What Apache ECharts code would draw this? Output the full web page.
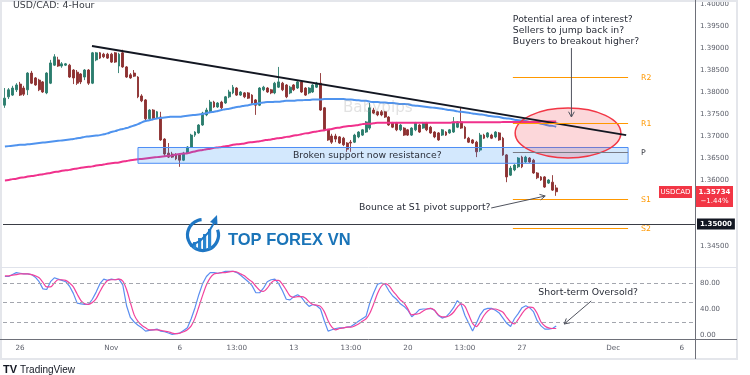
<!DOCTYPE html>
<html><head><meta charset="utf-8">
<script src="https://cdn.jsdelivr.net/npm/echarts@6/dist/echarts.min.js"></script>
<style>html,body{margin:0;padding:0;background:#fff}#c{width:750px;height:375px}</style>
</head><body><div id="c"></div>
<script>
// ---------- DATA ----------
const symbolTitle = 'USD/CAD: 4-Hour';
const symbolTag = 'USDCAD';
const lastChangePct = -1.44;
// 4-hour candles [open, close, low, high]
const candles = [
[1.3770,1.3786,1.3764,1.3809],[1.3789,1.3805,1.3784,1.3809],[1.3793,1.3809,1.3791,1.3814],[1.3805,1.3816,1.3800,1.3820],
[1.3818,1.3793,1.3791,1.3823],[1.3809,1.3795,1.3791,1.3814],[1.3805,1.3843,1.3793,1.3845],[1.3843,1.3820,1.3818,1.3848],
[1.3832,1.3816,1.3814,1.3834],[1.3827,1.3805,1.3802,1.3830],[1.3823,1.3800,1.3798,1.3825],[1.3798,1.3843,1.3795,1.3845],
[1.3820,1.3866,1.3818,1.3873],[1.3861,1.3880,1.3859,1.3886],[1.3873,1.3859,1.3857,1.3880],[1.3859,1.3864,1.3855,1.3868],
[1.3861,1.3864,1.3859,1.3866],[1.3861,1.3834,1.3832,1.3864],[1.3850,1.3832,1.3818,1.3852],[1.3845,1.3820,1.3816,1.3850],
[1.3841,1.3823,1.3818,1.3843],[1.3834,1.3850,1.3827,1.3852],[1.3850,1.3820,1.3816,1.3852],[1.3820,1.3889,1.3818,1.3891],
[1.3873,1.3889,1.3870,1.3891],[1.3889,1.3877,1.3875,1.3891],[1.3886,1.3880,1.3877,1.3889],[1.3886,1.3877,1.3875,1.3889],
[1.3886,1.3868,1.3866,1.3889],[1.3889,1.3868,1.3866,1.3891],[1.3859,1.3886,1.3843,1.3889],[1.3889,1.3857,1.3855,1.3896],
[1.3857,1.3834,1.3832,1.3859],[1.3839,1.3832,1.3830,1.3843],[1.3843,1.3836,1.3834,1.3850],[1.3834,1.3789,1.3786,1.3836],
[1.3791,1.3780,1.3777,1.3795],[1.3782,1.3739,1.3736,1.3784],[1.3739,1.3759,1.3736,1.3761],[1.3759,1.3739,1.3736,1.3761],
[1.3741,1.3755,1.3739,1.3757],[1.3743,1.3691,1.3689,1.3755],[1.3693,1.3659,1.3655,1.3695],[1.3661,1.3652,1.3650,1.3684],
[1.3659,1.3652,1.3650,1.3664],[1.3657,1.3648,1.3645,1.3661],[1.3657,1.3645,1.3630,1.3659],[1.3645,1.3661,1.3643,1.3664],
[1.3661,1.3675,1.3659,1.3677],[1.3675,1.3702,1.3673,1.3705],[1.3702,1.3709,1.3698,1.3711],[1.3707,1.3725,1.3705,1.3727],
[1.3725,1.3752,1.3723,1.3755],[1.3748,1.3759,1.3745,1.3764],[1.3755,1.3777,1.3752,1.3782],[1.3777,1.3766,1.3764,1.3780],
[1.3766,1.3775,1.3764,1.3777],[1.3777,1.3764,1.3759,1.3780],[1.3775,1.3789,1.3773,1.3791],[1.3789,1.3800,1.3786,1.3805],
[1.3798,1.3811,1.3795,1.3816],[1.3809,1.3793,1.3791,1.3811],[1.3793,1.3800,1.3791,1.3802],[1.3798,1.3789,1.3786,1.3800],
[1.3798,1.3786,1.3784,1.3800],[1.3793,1.3775,1.3773,1.3795],[1.3782,1.3770,1.3748,1.3784],[1.3770,1.3809,1.3768,1.3811],
[1.3805,1.3811,1.3802,1.3814],[1.3809,1.3800,1.3798,1.3811],[1.3805,1.3798,1.3795,1.3807],[1.3798,1.3820,1.3795,1.3823],
[1.3811,1.3823,1.3809,1.3857],[1.3820,1.3805,1.3802,1.3823],[1.3816,1.3789,1.3786,1.3818],[1.3798,1.3811,1.3795,1.3814],
[1.3816,1.3805,1.3802,1.3818],[1.3809,1.3823,1.3807,1.3827],[1.3823,1.3800,1.3798,1.3825],[1.3809,1.3793,1.3791,1.3811],
[1.3798,1.3809,1.3795,1.3811],[1.3800,1.3816,1.3798,1.3818],[1.3811,1.3820,1.3809,1.3823],[1.3820,1.3759,1.3757,1.3843],
[1.3764,1.3714,1.3711,1.3766],[1.3714,1.3691,1.3689,1.3716],[1.3700,1.3686,1.3682,1.3705],[1.3700,1.3693,1.3686,1.3705],
[1.3698,1.3684,1.3682,1.3700],[1.3695,1.3680,1.3677,1.3698],[1.3684,1.3670,1.3664,1.3686],[1.3686,1.3684,1.3664,1.3691],
[1.3686,1.3702,1.3684,1.3705],[1.3698,1.3709,1.3695,1.3711],[1.3702,1.3714,1.3700,1.3716],[1.3709,1.3732,1.3707,1.3734],
[1.3718,1.3764,1.3714,1.3775],[1.3759,1.3752,1.3750,1.3764],[1.3755,1.3748,1.3745,1.3757],[1.3755,1.3748,1.3745,1.3759],
[1.3755,1.3743,1.3741,1.3757],[1.3743,1.3725,1.3723,1.3745],[1.3730,1.3720,1.3718,1.3732],[1.3730,1.3714,1.3711,1.3732],
[1.3714,1.3725,1.3711,1.3727],[1.3718,1.3702,1.3700,1.3720],[1.3714,1.3702,1.3700,1.3716],[1.3702,1.3718,1.3700,1.3720],
[1.3714,1.3730,1.3711,1.3732],[1.3725,1.3709,1.3707,1.3727],[1.3718,1.3730,1.3716,1.3732],[1.3730,1.3714,1.3711,1.3732],
[1.3720,1.3707,1.3705,1.3723],[1.3709,1.3698,1.3695,1.3711],[1.3707,1.3691,1.3689,1.3709],[1.3702,1.3714,1.3700,1.3716],
[1.3709,1.3702,1.3700,1.3711],[1.3707,1.3714,1.3705,1.3716],[1.3709,1.3732,1.3707,1.3743],[1.3720,1.3732,1.3718,1.3734],
[1.3732,1.3718,1.3716,1.3766],[1.3720,1.3695,1.3693,1.3723],[1.3695,1.3686,1.3684,1.3698],[1.3691,1.3684,1.3682,1.3693],
[1.3686,1.3664,1.3652,1.3689],[1.3668,1.3702,1.3664,1.3707],[1.3702,1.3695,1.3693,1.3705],[1.3698,1.3707,1.3695,1.3709],
[1.3702,1.3695,1.3693,1.3705],[1.3698,1.3709,1.3695,1.3711],[1.3707,1.3691,1.3689,1.3709],[1.3695,1.3657,1.3655,1.3698],
[1.3657,1.3607,1.3595,1.3659],[1.3611,1.3627,1.3609,1.3632],[1.3623,1.3634,1.3620,1.3636],[1.3630,1.3650,1.3627,1.3652],
[1.3652,1.3630,1.3627,1.3655],[1.3641,1.3652,1.3639,1.3655],[1.3650,1.3641,1.3639,1.3652],[1.3645,1.3616,1.3614,1.3648],
[1.3616,1.3605,1.3602,1.3618],[1.3607,1.3600,1.3598,1.3609],[1.3607,1.3584,1.3582,1.3609],[1.3593,1.3600,1.3591,1.3602],
[1.3595,1.3577,1.3575,1.3611],[1.3582,1.35734,1.3564,1.3589]
];
// moving averages
const maBlue = [
1.3676,1.3677,1.3678,1.3679,1.3680,1.3680,1.3681,1.3682,1.3683,1.3684,
1.3685,1.3686,1.3687,1.3688,1.3689,1.3690,1.3691,1.3692,1.3693,1.3695,
1.3696,1.3698,1.3699,1.3700,1.3701,1.3702,1.3704,1.3706,1.3709,1.3711,
1.3714,1.3716,1.3718,1.3721,1.3724,1.3727,1.3731,1.3734,1.3736,1.3738,
1.3740,1.3741,1.3742,1.3743,1.3744,1.3744,1.3744,1.3745,1.3746,1.3747,
1.3748,1.3749,1.3750,1.3752,1.3754,1.3755,1.3757,1.3759,1.3761,1.3762,
1.3764,1.3766,1.3767,1.3769,1.3770,1.3772,1.3773,1.3775,1.3776,1.3777,
1.3777,1.3778,1.3778,1.3779,1.3780,1.3780,1.3780,1.3781,1.3781,1.3782,
1.3782,1.3783,1.3783,1.3783,1.3784,1.3784,1.3784,1.3784,1.3784,1.3784,
1.3783,1.3783,1.3782,1.3781,1.3780,1.3780,1.3778,1.3777,1.3777,1.3776,
1.3776,1.3775,1.3775,1.3774,1.3773,1.3773,1.3772,1.3770,1.3769,1.3768,
1.3767,1.3766,1.3765,1.3764,1.3763,1.3762,1.3760,1.3759,1.3758,1.3756,
1.3755,1.3754,1.3753,1.3751,1.3750,1.3749,1.3748,1.3746,1.3745,1.3744,
1.3743,1.3741,1.3740,1.3739,1.3737,1.3736,1.3735,1.3734,1.3732,1.3731,
1.3730,1.3728,1.3726,1.3724,1.3723,1.3721];
const maPink = [
1.3599,1.3600,1.3602,1.3603,1.3605,1.3606,1.3608,1.3609,1.3610,1.3612,
1.3613,1.3615,1.3616,1.3618,1.3619,1.3621,1.3622,1.3623,1.3625,1.3626,
1.3628,1.3629,1.3630,1.3631,1.3633,1.3634,1.3635,1.3637,1.3638,1.3639,
1.3640,1.3642,1.3643,1.3645,1.3646,1.3647,1.3648,1.3649,1.3650,1.3651,
1.3652,1.3653,1.3654,1.3655,1.3656,1.3658,1.3659,1.3660,1.3661,1.3663,
1.3665,1.3667,1.3668,1.3670,1.3671,1.3673,1.3674,1.3675,1.3677,1.3678,
1.3680,1.3681,1.3682,1.3683,1.3685,1.3686,1.3687,1.3688,1.3690,1.3691,
1.3692,1.3694,1.3695,1.3696,1.3698,1.3699,1.3701,1.3702,1.3704,1.3706,
1.3707,1.3709,1.3710,1.3712,1.3713,1.3715,1.3716,1.3718,1.3719,1.3721,
1.3722,1.3723,1.3724,1.3725,1.3727,1.3728,1.3728,1.3729,1.3730,1.3730,
1.3730,1.3730,1.3730,1.3730,1.3730,1.3730,1.3730,1.3730,1.3730,1.3730,
1.3730,1.3730,1.3730,1.3730,1.3730,1.3730,1.3730,1.3730,1.3731,1.3731,
1.3731,1.3731,1.3731,1.3731,1.3731,1.3731,1.3731,1.3731,1.3731,1.3731,
1.3731,1.3732,1.3732,1.3732,1.3732,1.3732,1.3732,1.3732,1.3732,1.3732,
1.3732,1.3733,1.3733,1.3733,1.3733,1.3733];
// stochastic
const stochK = [
90,90,93,96,95,94,94,93,89,82, 71,70,82,88,86,84,82,75,64,49, 48,47,47,55,66,79,86,84,86,85,
86,77,45,27,20,15,11,6,7,8, 9,6,5,3,1,2,3,7,11,25, 42,62,79,90,96,96,95,96,98,98,
98,96,92,87,82,76,65,65,72,82, 85,86,79,68,55,54,59,62,58,50, 44,47,45,40,22,6,8,10,11,11,
12,13,17,21,25,29,50,65,78,80, 78,68,60,55,48,44,38,28,33,39, 40,40,41,38,30,26,28,34,42,53,
47,30,18,6,18,31,39,41,41,38, 34,26,18,13,25,33,42,45,42,36, 22,14,9,9,10,14];
const stochD = [
91,91,92,93,94,94,94,93,91,88, 81,74,74,80,85,85,84,80,74,63, 53,48,47,50,56,67,77,84,85,85,
86,83,70,50,31,21,15,11,8,8, 8,7,6,5,3,2,3,5,8,14, 26,43,61,77,88,94,95,96,96,97,
98,97,94,91,86,82,75,69,67,72, 80,84,84,78,69,60,58,59,59,57, 51,47,46,44,36,22,12,8,10,11,
12,12,14,17,21,25,34,48,64,75, 79,76,68,61,54,49,40,31,32,33, 37,40,41,38,31,28,28,30,35,43,
48,44,31,18,13,20,30,37,40,40, 38,35,27,20,17,24,33,40,43,42, 33,20,14,11,10,10];
// time axis
const barCount = 182;
const timeTickIdx = [4,28,46,61,76,91,106,121,136,160,178];
const timeTickText = ['26','Nov','6','13:00','13','13:00','20','13:00','27','Dec','6'];
// price axis
const priceTicks = ['1.34500','1.35000','1.36000','1.36500','1.37000','1.37500','1.38000','1.38500','1.39000','1.39500','1.40000'];
const markedLevel = 1.35;
const stochTicks = ['0.00','40.00','80.00'];
const stochLevels = [80, 50, 20];
// pivots
const pivotNames = ['R2','R1','P','S1','S2'];
const pivotValues = [1.38341, 1.37295, 1.36636, 1.35568, 1.34909];

// ---------- ANNOTATIONS (data coordinates: bar index, price / stoch value) ----------
const notes = {
  trend: [[22.9, 1.39046], [163.4, 1.37020]],
  zone: {from: 35.0, to: 163.9, top: 1.36739, bottom: 1.36380, text: 'Broken support now resistance?', textAt: 95.3},
  ellipse: {cx: 148.1, cy: 1.37068, rx: 13.9, ry: 0.00568},
  pivotFrom: 133.6, pivotTo: 163.9, pivotLabelAt: 167.3,
  topNote: {at: [133.6, 1.39761], text: 'Potential area of interest?\nSellers to jump back in?\nBuyers to breakout higher?'},
  topArrow: [[149.0, 1.38999], [149.0, 1.37432]],
  bounce: {at: [93.1, 1.35364], text: 'Bounce at S1 pivot support?', arrow: [[127.9, 1.35364], [142.1, 1.35636]]},
  oversold: {at: [140.3, 64.6], text: 'Short-term Oversold?', arrow: [[154.2, 52.3], [147.1, 16.9]]},
  watermark: {at: [88.9, 1.37637], text: 'Babypips'}
};

// ---------- CHART ----------
const chart = echarts.init(document.getElementById('c'), null, {renderer: 'canvas'});
const cats = Array.from({length: barCount}, (_, i) => 'b' + i);
const FONT = 'DejaVu Sans';
const AX = '#5d606b';
const UP = '#2b7d6d', DOWN = '#8d3131';

const option = {
  animation: false,
  backgroundColor: '#ffffff',
  grid: [
    {left: 3, right: 55, top: 0, height: 268},
    {left: 3, right: 55, top: 270, height: 65}
  ],
  xAxis: [
    {type: 'category', gridIndex: 0, data: cats, boundaryGap: true,
     axisLine: {show: false}, axisTick: {show: false}, axisLabel: {show: false}, splitLine: {show: false}},
    {type: 'category', gridIndex: 1, data: cats, boundaryGap: true, offset: 4,
     axisLine: {show: false}, axisTick: {show: false}, splitLine: {show: false},
     axisLabel: {
       interval: (i) => timeTickIdx.indexOf(i) >= 0,
       formatter: (v, i) => { const k = timeTickIdx.indexOf(i); return k >= 0 ? timeTickText[k] : ''; },
       color: AX, fontFamily: FONT, fontSize: 7.2, margin: 6
     }}
  ],
  yAxis: [
    {type: 'value', gridIndex: 0, position: 'right', min: 1.34, max: 1.40091, interval: 0.005, scale: true,
     axisLine: {show: false}, axisTick: {show: false}, splitLine: {show: false},
     axisLabel: {
       margin: 2, align: 'left',
       formatter: (v) => { const s = v.toFixed(5); if (priceTicks.indexOf(s) < 0) return '';
         return Math.abs(v - markedLevel) < 1e-7 ? '{blk|' + s + '}' : '{n|' + s + '}'; },
       rich: {
         n: {color: AX, fontFamily: FONT, fontSize: 7, padding: [0, 0, 0, 3]},
         blk: {color: '#ffffff', backgroundColor: '#131722', fontFamily: FONT, fontSize: 7, fontWeight: 'bold', padding: [2, 3, 2, 3]}
       }
     }},
    {type: 'value', gridIndex: 1, position: 'right', min: 0, max: 100, interval: 40,
     axisLine: {show: false}, axisTick: {show: false}, splitLine: {show: false},
     axisLabel: {
       margin: 5, align: 'left', color: AX, fontFamily: FONT, fontSize: 7,
       formatter: (v) => { const s = v.toFixed(2); return stochTicks.indexOf(s) >= 0 ? s : ''; }
     }}
  ],
  series: [
    {type: 'candlestick', xAxisIndex: 0, yAxisIndex: 0, data: candles, barWidth: 2.4,
     itemStyle: {color: UP, color0: DOWN, borderColor: UP, borderColor0: DOWN, borderWidth: 0.9},
     markLine: {silent: true, symbol: 'none', label: {show: false},
       lineStyle: {color: '#3a3d45', type: 'solid', width: 1},
       data: [{yAxis: markedLevel}]}},
    {type: 'line', xAxisIndex: 0, yAxisIndex: 0, data: maBlue, symbol: 'none', smooth: true,
     lineStyle: {color: '#4f93ee', width: 2}},
    {type: 'line', xAxisIndex: 0, yAxisIndex: 0, data: maPink, symbol: 'none', smooth: true,
     lineStyle: {color: '#f0318c', width: 2}},
    {type: 'line', xAxisIndex: 1, yAxisIndex: 1, data: stochK, symbol: 'none',
     lineStyle: {color: '#5b8ef0', width: 1.2},
     markLine: {silent: true, symbol: 'none', label: {show: false},
       lineStyle: {color: '#a3a6ae', type: [4, 3], width: 1},
       data: stochLevels.map(v => ({yAxis: v}))}},
    {type: 'line', xAxisIndex: 1, yAxisIndex: 1, data: stochD, symbol: 'none', smooth: 0.3,
     lineStyle: {color: '#f2439c', width: 1.2}}
  ]
};
chart.setOption(option);

// ---------- drawings placed via the chart's own scales ----------
const X = (i, g) => { g = g || 0; const a = chart.convertToPixel({xAxisIndex: g}, 0), b = chart.convertToPixel({xAxisIndex: g}, 100); return a + (b - a) * i / 100; };
const Y = (v, g) => chart.convertToPixel({yAxisIndex: g || 0}, v);
function txt(s, x, y, o) {
  o = o || {};
  const al = o.align || 'left', va = o.va || 'middle';
  return {type: 'text', z: o.z || 60, silent: true, style: {text: s, x: x, y: y, fill: o.fill || '#2a2e39',
    font: o.font || ('9.3px "' + FONT + '"'), textAlign: al, textVerticalAlign: va, align: al, verticalAlign: va,
    lineHeight: o.lh || undefined}};
}
function line(x1, y1, x2, y2, stroke, w, z) {
  return {type: 'line', z: z || 55, silent: true, shape: {x1, y1, x2, y2}, style: {stroke, lineWidth: w || 1}};
}
function arrow(x1, y1, x2, y2, color) {
  const a = Math.atan2(y2 - y1, x2 - x1), L = 6, w = 0.5;
  return [line(x1, y1, x2, y2, color, 1),
    {type: 'polyline', z: 55, silent: true, shape: {points: [[x2 - L * Math.cos(a - w), y2 - L * Math.sin(a - w)], [x2, y2], [x2 - L * Math.cos(a + w), y2 - L * Math.sin(a + w)]]},
     style: {stroke: color, lineWidth: 1, fill: null}}];
}
const G = [];
// frame
G.push({type: 'rect', z: 1, silent: true, shape: {x: 1, y: 1, width: 736, height: 358}, style: {fill: null, stroke: '#e4e6eb', lineWidth: 2}});
G.push(line(0, 267.5, 737, 267.5, '#e0e3eb', 1, 2));
G.push(line(695.5, 0, 695.5, 359, '#6e7079', 1, 2));
G.push(line(0, 339.5, 737, 339.5, '#6e7079', 1, 2));
// title
G.push(txt(symbolTitle, 13, 6, {font: '9.4px "' + FONT + '"', fill: '#3a3d45'}));
// watermark
G.push(txt(notes.watermark.text, X(notes.watermark.at[0]), Y(notes.watermark.at[1]), {font: '15.2px "' + FONT + '"', fill: 'rgba(150,150,150,0.28)', z: 5}));
// zone box
const z = notes.zone;
G.push({type: 'rect', z: 20, silent: true, shape: {x: X(z.from), y: Y(z.top), width: X(z.to) - X(z.from), height: Y(z.bottom) - Y(z.top)},
  style: {fill: 'rgba(33,140,243,0.20)', stroke: '#4d8df5', lineWidth: 1}});
G.push(txt(z.text, X(z.textAt), (Y(z.top) + Y(z.bottom)) / 2, {align: 'center', fill: '#2a2e39'}));
// ellipse
const e = notes.ellipse;
G.push({type: 'ellipse', z: 21, silent: true, shape: {cx: X(e.cx), cy: Y(e.cy), rx: X(e.cx + e.rx) - X(e.cx), ry: Y(e.cy - e.ry) - Y(e.cy)},
  style: {fill: 'rgba(242,54,69,0.20)', stroke: '#f23645', lineWidth: 1.5}});
// trendline
G.push(line(X(notes.trend[0][0]), Y(notes.trend[0][1]), X(notes.trend[1][0]), Y(notes.trend[1][1]), '#131722', 2, 40));
// pivots
pivotNames.forEach((n, k) => {
  const yy = Math.round(Y(pivotValues[k])) + 0.5;
  const col = n === 'P' ? '#787b86' : '#ff9800';
  G.push(line(X(notes.pivotFrom), yy, X(notes.pivotTo), yy, col, 1, 45));
  G.push(txt(n, X(notes.pivotLabelAt), yy, {font: '7.8px "' + FONT + '"', fill: n === 'P' ? '#3a3d45' : '#ff9800'}));
});
// top note + arrow
G.push(txt(notes.topNote.text, X(notes.topNote.at[0]), Y(notes.topNote.at[1]), {va: 'top', lh: 11}));
arrow(X(notes.topArrow[0][0]), Y(notes.topArrow[0][1]), X(notes.topArrow[1][0]), Y(notes.topArrow[1][1]), '#50535e').forEach(g => G.push(g));
// bounce
G.push(txt(notes.bounce.text, X(notes.bounce.at[0]), Y(notes.bounce.at[1])));
const ba = notes.bounce.arrow;
arrow(X(ba[0][0]), Y(ba[0][1]), X(ba[1][0]), Y(ba[1][1]), '#50535e').forEach(g => G.push(g));
// oversold
G.push(txt(notes.oversold.text, X(notes.oversold.at[0], 1), Y(notes.oversold.at[1], 1)));
const oa = notes.oversold.arrow;
arrow(X(oa[0][0], 1), Y(oa[0][1], 1), X(oa[1][0], 1), Y(oa[1][1], 1), '#50535e').forEach(g => G.push(g));
// last price tags
const last = candles[candles.length - 1][1];
const yl = Math.round(Y(last));
G.push({type: 'rect', z: 70, silent: true, shape: {x: 696, y: yl - 6, width: 37, height: 21}, style: {fill: '#f23645'}});
G.push(txt(last.toFixed(5), 714.5, yl, {align: 'center', fill: '#ffffff', font: 'bold 7px "' + FONT + '"', z: 71}));
G.push(txt((lastChangePct < 0 ? '\u2212' : '+') + Math.abs(lastChangePct).toFixed(2) + '%', 714.5, yl + 9, {align: 'center', fill: '#ffffff', font: '7px "' + FONT + '"', z: 71}));
G.push({type: 'rect', z: 70, silent: true, shape: {x: 659, y: yl - 6, width: 33, height: 12}, style: {fill: '#f23645'}});
G.push(txt(symbolTag, 675.5, yl, {align: 'center', fill: '#ffffff', font: '7px "' + FONT + '"', z: 71}));
// TOP FOREX VN logo
G.push({type: 'arc', z: 30, silent: true, shape: {cx: 203, cy: 235, r: 15.5, startAngle: -0.35, endAngle: 4.62, clockwise: true}, style: {stroke: '#1f77c4', lineWidth: 3.2, fill: null}});
[[193, 7], [198, 11], [203, 15], [208, 20]].forEach(b => G.push({type: 'rect', z: 30, silent: true, shape: {x: b[0], y: 249 - b[1], width: 3.2, height: b[1]}, style: {fill: '#2a86d0'}}));
G.push({type: 'polyline', z: 30, silent: true, shape: {points: [[190, 246], [200, 241], [208, 233], [214, 223]]}, style: {stroke: '#1f77c4', lineWidth: 2, fill: null}});
G.push({type: 'polygon', z: 30, silent: true, shape: {points: [[210, 222], [217, 215], [217.5, 225]]}, style: {fill: '#1f77c4'}});
G.push(txt('TOP FOREX VN', 228, 240, {font: 'bold 16.5px "Liberation Sans"', fill: '#1a74b8', z: 30}));
// TradingView mark
G.push(txt('TV', 3, 370, {font: 'bold 11px "Liberation Sans"', fill: '#131722'}));
G.push(txt('TradingView', 20, 370, {font: '10px "Liberation Sans"', fill: '#131722'}));

chart.setOption({graphic: {elements: G}});
</script>
</body></html>
